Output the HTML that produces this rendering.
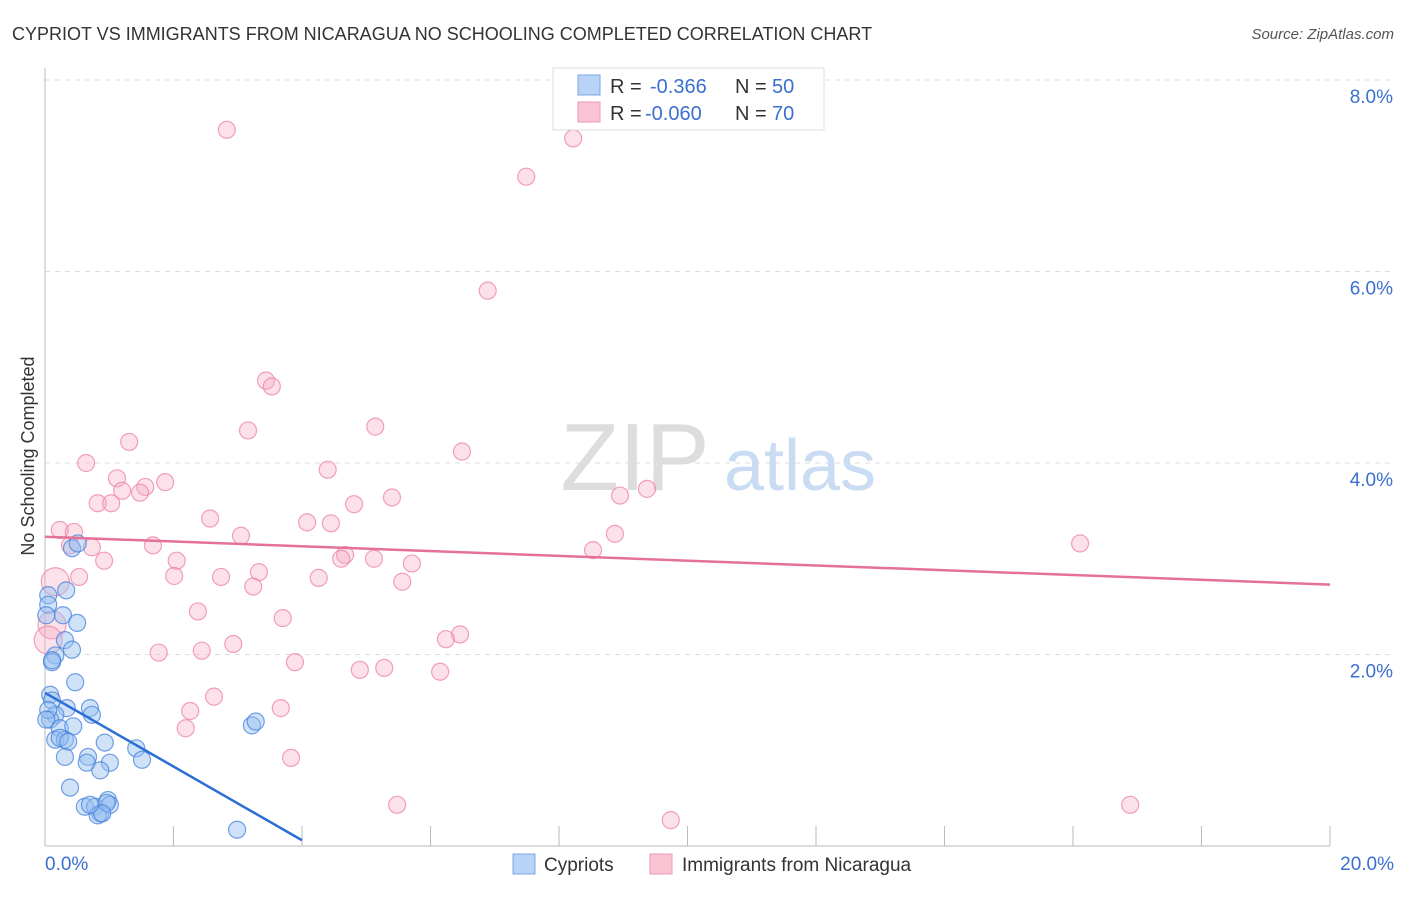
<!DOCTYPE html>
<html><head><meta charset="utf-8"><style>
body{margin:0;background:#fff;font-family:"Liberation Sans",sans-serif;}
svg text{font-family:"Liberation Sans",sans-serif;}
</style></head><body>
<svg id="chart" width="1406" height="892" xmlns="http://www.w3.org/2000/svg">
<text x="12" y="40" font-size="18" fill="#333">CYPRIOT VS IMMIGRANTS FROM NICARAGUA NO SCHOOLING COMPLETED CORRELATION CHART</text>
<text x="1394" y="39" font-size="15" fill="#555" text-anchor="end" font-style="italic">Source: ZipAtlas.com</text>
<g id="grid"></g>
<g>
<text x="635" y="490" font-size="96" fill="#ddd" font-family="Liberation Serif" text-anchor="middle">ZIP</text>
<text x="800" y="490" font-size="72" fill="#c9dcf3" text-anchor="middle">atlas</text>
</g>
<g id="axes"></g>
<g id="pts"></g>
<g id="trends"></g>
<text transform="translate(34,456) rotate(-90)" font-size="18" fill="#333" text-anchor="middle">No Schooling Completed</text>
<g>
<rect x="553" y="68" width="271" height="62" fill="#fff" stroke="#ddd"/>
<rect x="578" y="75" width="22" height="20" fill="#b8d3f5" stroke="#7aa7e6"/>
<rect x="578" y="102" width="22" height="20" fill="#f9c4d4" stroke="#ee9ab4"/>
<text x="610" y="93" font-size="20" fill="#333">R = </text><text x="650" y="93" font-size="20" fill="#3b6fd0">-0.366</text>
<text x="735" y="93" font-size="20" fill="#333">N = </text><text x="772" y="93" font-size="20" fill="#3b6fd0">50</text>
<text x="610" y="120" font-size="20" fill="#333">R = </text><text x="645" y="120" font-size="20" fill="#3b6fd0">-0.060</text>
<text x="735" y="120" font-size="20" fill="#333">N = </text><text x="772" y="120" font-size="20" fill="#3b6fd0">70</text>
</g>
<g>
<rect x="513" y="854" width="22" height="20" fill="#b8d3f5" stroke="#7aa7e6"/>
<text x="544" y="871" font-size="19" fill="#333">Cypriots</text>
<rect x="650" y="854" width="22" height="20" fill="#f9c4d4" stroke="#ee9ab4"/>
<text x="682" y="871" font-size="19" fill="#333">Immigrants from Nicaragua</text>
</g>
</svg>
<script>
const blueX=[.05,.05,.33,.42,.51,.28,.50,.31,.42,.16,.11,.47,.08,.11,.34,.70,.73,.16,.08,.23,.44,.16,.31,.23,.36,.93,1.42,.67,.31,1.01,.65,.86,1.51,.39,.62,.78,.86,.82,.98,1.01,.96,2.99,3.22,3.28,.05,.02,.11,.02,.89,.70];
const blueY=[2.62,2.52,2.67,3.11,3.16,2.41,2.33,2.15,2.05,1.99,1.92,1.71,1.58,1.52,1.44,1.44,1.37,1.37,1.32,1.23,1.25,1.11,1.11,1.13,1.09,1.08,1.02,.93,.93,.87,.87,.79,.90,.61,.41,.41,.34,.32,.48,.43,.45,.17,1.26,1.30,1.42,2.41,1.94,1.32,.34,.43];
const pinkX=[2.83,8.22,7.49,6.89,3.44,3.53,3.16,5.14,1.31,6.49,.64,4.40,1.12,1.87,1.20,1.56,1.48,.82,1.03,5.40,4.81,8.95,9.37,2.57,4.08,4.45,.23,.45,8.87,3.05,1.68,.39,.73,8.53,4.67,4.61,2.05,.92,5.12,5.71,3.33,2.01,2.74,.53,4.26,5.56,3.24,.16,2.38,3.70,6.46,6.24,2.93,1.77,2.44,3.89,4.90,5.28,6.15,2.63,2.26,3.67,2.19,3.83,5.48,9.74,16.89,16.11,.11,.05];
const pinkY=[7.48,7.39,6.99,5.80,4.86,4.80,4.34,4.38,4.22,4.12,4.00,3.93,3.84,3.80,3.71,3.75,3.69,3.58,3.58,3.64,3.57,3.66,3.73,3.42,3.38,3.37,3.30,3.28,3.26,3.24,3.14,3.14,3.12,3.09,3.04,3.00,2.98,2.98,3.00,2.95,2.86,2.82,2.81,2.81,2.80,2.76,2.71,2.76,2.45,2.38,2.21,2.16,2.11,2.02,2.04,1.92,1.84,1.86,1.82,1.56,1.41,1.44,1.23,.92,.43,.27,.43,3.16,2.31,2.15];
const blueTrend=[[0,1.60],[4.0,0.06]];
const pinkTrend=[[0,3.23],[20,2.73]];
const yTicks=[2,4,6,8];
const xTickVals=[2,4,6,8,10,12,14,16,18,20];
const NS='http://www.w3.org/2000/svg';
const sx=v=>45+v*64.25, sy=v=>846-v*95.75;
function mk(p,t,a){const e=document.createElementNS(NS,t);for(const k in a)e.setAttribute(k,a[k]);p.appendChild(e);return e;}
const grid=document.getElementById('grid'),axes=document.getElementById('axes');
yTicks.forEach(v=>{
 const l=mk(grid,'line',{x1:45,x2:1394,y1:sy(v),y2:sy(v),stroke:'#ddd','stroke-dasharray':'5,5'});
 
 
 const t=mk(axes,'text',{x:1393,y:sy(v)+23,'font-size':19,fill:'#3b6fd0','text-anchor':'end'});t.textContent=v.toFixed(1)+'%';
 
 
});
mk(axes,'line',{x1:45,x2:45,y1:68,y2:846,stroke:'#bbb'});
mk(axes,'line',{x1:45,x2:1330,y1:846,y2:846,stroke:'#bbb'});
xTickVals.forEach(v=>{const l=mk(axes,'line',{x1:sx(v),x2:sx(v),y1:826,y2:846,stroke:'#bbb'});
 
 });
let t=mk(axes,'text',{x:45,y:870,'font-size':19,fill:'#3b6fd0'});t.textContent='0.0%';


t=mk(axes,'text',{x:1394,y:870,'font-size':19,fill:'#3b6fd0','text-anchor':'end'});t.textContent='20.0%';


const pts=document.getElementById('pts');
pinkX.forEach((x,i)=>{const big=(x<0.2&&(pinkY[i]>2.7||pinkY[i]<2.4));
 const c=mk(pts,'circle',{cx:sx(x),cy:sy(pinkY[i]),r:big?14:8.5,fill:'rgba(246,170,195,0.35)',stroke:'rgba(236,130,165,0.75)','stroke-width':1.2});
 
 });
blueX.forEach((x,i)=>{const c=mk(pts,'circle',{cx:sx(x),cy:sy(blueY[i]),r:8.5,fill:'rgba(150,190,240,0.45)',stroke:'rgba(70,130,220,0.75)','stroke-width':1.2});
 
 });
const tr=document.getElementById('trends');
let l=mk(tr,'line',{x1:sx(pinkTrend[0][0]),y1:sy(pinkTrend[0][1]),x2:sx(pinkTrend[1][0]),y2:sy(pinkTrend[1][1]),stroke:'#e5709a','stroke-width':2.5});


l=mk(tr,'line',{x1:sx(blueTrend[0][0]),y1:sy(blueTrend[0][1]),x2:sx(blueTrend[1][0]),y2:sy(blueTrend[1][1]),stroke:'#2a6fd6','stroke-width':2.5});


</script>
</body></html>
